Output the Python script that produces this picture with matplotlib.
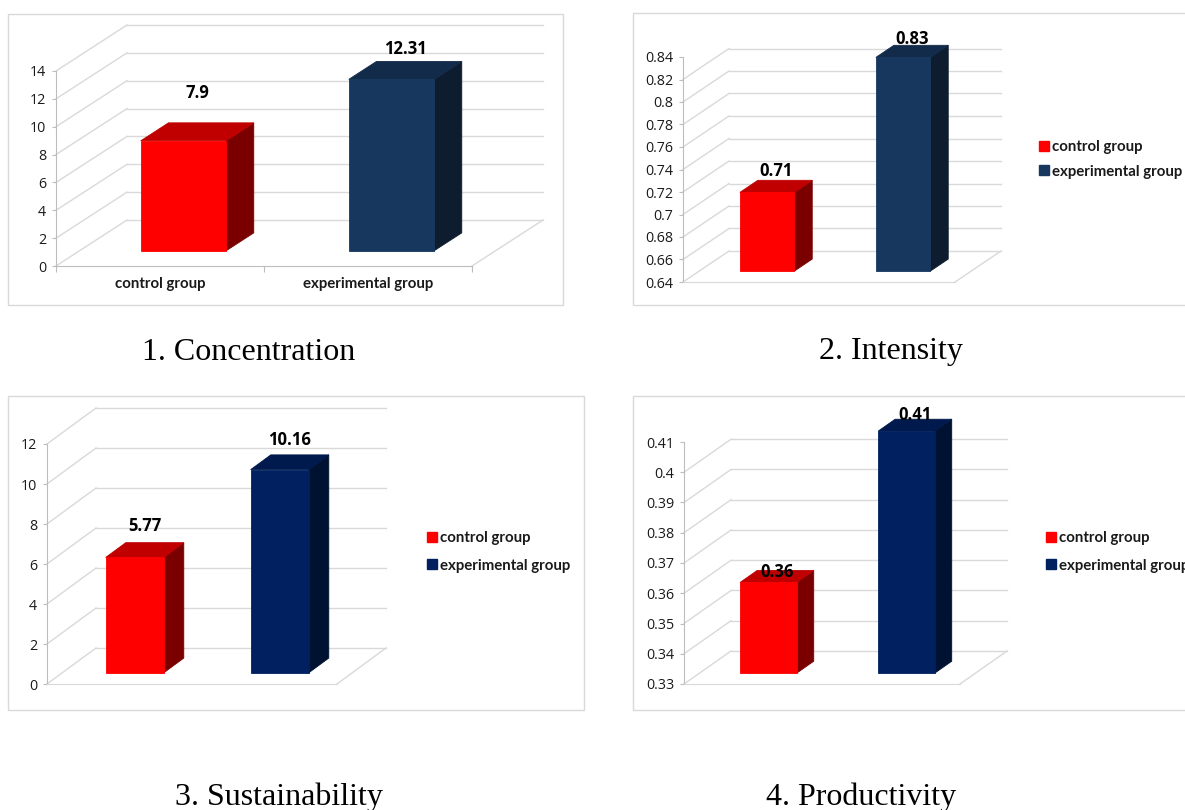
import matplotlib
matplotlib.use("Agg")
import matplotlib.pyplot as plt
from matplotlib.patches import Polygon, Rectangle
from matplotlib.lines import Line2D

# ---- data -------------------------------------------------------------
groups = ["control group", "experimental group"]
captions = ["1. Concentration", "2. Intensity", "3. Sustainability", "4. Productivity"]

concentration = [7.9, 12.31]
intensity = [0.71, 0.83]
sustainability = [5.77, 10.16]
productivity = [0.36, 0.41]

conc_ticks = [0, 2, 4, 6, 8, 10, 12, 14]
conc_labels = ["0", "2", "4", "6", "8", "10", "12", "14"]
int_ticks = [0.64, 0.66, 0.68, 0.70, 0.72, 0.74, 0.76, 0.78, 0.80, 0.82, 0.84]
int_labels = ["0.64", "0.66", "0.68", "0.7", "0.72", "0.74", "0.76", "0.78", "0.8", "0.82", "0.84"]
sus_ticks = [0, 2, 4, 6, 8, 10, 12]
sus_labels = ["0", "2", "4", "6", "8", "10", "12"]
prod_ticks = [0.33, 0.34, 0.35, 0.36, 0.37, 0.38, 0.39, 0.40, 0.41]
prod_labels = ["0.33", "0.34", "0.35", "0.36", "0.37", "0.38", "0.39", "0.4", "0.41"]

# ---- styling ----------------------------------------------------------
W, H, DPI = 1185, 810, 100
RED = ("#ff0000", "#c00000", "#7a0000")            # front, top, side
BLUE_A = ("#17375e", "#132b4b", "#0d1c2e")
BLUE_B = ("#002060", "#001a4e", "#001232")
GRID = "#d9d9d9"
AXIS = "#bdbdbd"
FRAME = "#d9d9d9"
TXT = "#1a1a1a"
LABEL_SIZE = 10.8

# pixel layout of each panel: frame box, front axis box, depth shift, bar geometry
panels = [
    dict(values=concentration, ticks=conc_ticks, labels=conc_labels, back_top=14,
         colors=(RED, BLUE_A), frame=(8, 14, 563, 305),
         fx0=56, fx1=472, fy0=266, fyt=71, dxp=71, dyp=46,
         width=0.41, f1=0.33, f2=0.72, xlabels=True, legend=None,
         lab_off=(30, 12), caption_xy=(249, 352)),
    dict(values=intensity, ticks=int_ticks, labels=int_labels, back_top=0.82,
         colors=(RED, BLUE_A), frame=(633, 13, 1200, 305),
         fx0=683, fx1=955, fy0=282, fyt=57, dxp=46, dyp=31,
         width=0.40, f1=0.35, f2=0.74, xlabels=False, legend=(1039, 159.5, 0.68),
         lab_off=(9, 6), caption_xy=(891, 352)),
    dict(values=sustainability, ticks=sus_ticks, labels=sus_labels, back_top=12,
         colors=(RED, BLUE_B), frame=(8, 396, 584, 710),
         fx0=47, fx1=337, fy0=684, fyt=444, dxp=49, dyp=36,
         width=0.40, f1=0.31, f2=0.72, xlabels=False, legend=(427, 552, 0.88),
         lab_off=(17, 15), caption_xy=(279, 797)),
    dict(values=productivity, ticks=prod_ticks, labels=prod_labels, back_top=0.40,
         colors=(RED, BLUE_B), frame=(633, 396, 1200, 710),
         fx0=684, fx1=960, fy0=684, fyt=442, dxp=47, dyp=33,
         width=0.41, f1=0.33, f2=0.69, xlabels=False, legend=(1046, 552, 0.88),
         lab_off=(-2, 4), caption_xy=(861, 797)),
]

fig = plt.figure(figsize=(W / DPI, H / DPI), dpi=DPI)
fig.patch.set_facecolor("white")


def fx(px):
    return px / W


def fy(py):
    return 1 - py / H


for p, caption in zip(panels, captions):
    # panel frame
    x0, y0, x1, y1 = p["frame"]
    fig.patches.append(Rectangle((fx(x0), fy(y1)), fx(x1) - fx(x0), fy(y0) - fy(y1),
                                 transform=fig.transFigure, fill=False,
                                 edgecolor=FRAME, linewidth=1.0, zorder=0))

    ticks = p["ticks"]
    vmin, vtop = ticks[0], ticks[-1]
    ppc = (p["fx1"] - p["fx0"]) / 2.0                 # pixels per category
    ppu = (p["fy0"] - p["fyt"]) / (vtop - vmin)       # pixels per value unit
    ddx = p["dxp"] / ppc
    ddy = p["dyp"] / ppu

    left, right = p["fx0"], p["fx1"] + p["dxp"]
    bottom, top = p["fy0"], p["fyt"] - p["dyp"]
    ax = fig.add_axes([fx(left), fy(bottom), fx(right) - fx(left), fy(top) - fy(bottom)])
    ax.set_xlim(0, 2 + ddx)
    ax.set_ylim(vmin, vtop + ddy)
    ax.patch.set_visible(False)

    # back wall gridlines and side wall diagonals
    for v in ticks:
        if v > p["back_top"] + 1e-9:
            continue
        ax.plot([ddx, 2 + ddx], [v + ddy, v + ddy], color=GRID, lw=1.0, zorder=1,
                clip_on=False)
        ax.plot([0, ddx], [v, v + ddy], color=GRID, lw=1.0, zorder=1, clip_on=False)
    # floor right edge
    ax.plot([2, 2 + ddx], [vmin, vmin + ddy], color=GRID, lw=1.0, zorder=1, clip_on=False)

    # axes spines
    for s in ("top", "right"):
        ax.spines[s].set_visible(False)
    ax.spines["left"].set_bounds(vmin, vtop)
    ax.spines["bottom"].set_bounds(0, 2)
    ax.spines["left"].set_color(AXIS)
    ax.spines["bottom"].set_color(AXIS if p["xlabels"] else GRID)
    ax.set_yticks(ticks)
    ax.set_yticklabels(p["labels"], fontfamily="Open Sans", fontsize=10.3, color=TXT)
    ax.tick_params(axis="y", length=3, color=AXIS, pad=4)
    if p["xlabels"]:
        ax.set_xticks([0, 1, 2])
        ax.set_xticklabels([])
        ax.tick_params(axis="x", which="major", length=4, color=AXIS)
        ax.set_xticks([0.5, 1.5], minor=True)
        ax.set_xticklabels(groups, minor=True, fontfamily="Lato", fontweight="bold",
                           fontsize=LABEL_SIZE, color=TXT)
        ax.tick_params(axis="x", which="minor", length=0, pad=8)
    else:
        ax.set_xticks([])

    # 3-D looking bars
    w, f1, f2 = p["width"], p["f1"], p["f2"]
    for i, (val, (c_front, c_top, c_side)) in enumerate(zip(p["values"], p["colors"])):
        xl = i + 0.5 - w / 2
        xr = i + 0.5 + w / 2
        a = (f1 * ddx, f1 * ddy)
        b = (f2 * ddx, f2 * ddy)
        front = [(xl + a[0], vmin + a[1]), (xr + a[0], vmin + a[1]),
                 (xr + a[0], val + a[1]), (xl + a[0], val + a[1])]
        side = [(xr + a[0], vmin + a[1]), (xr + b[0], vmin + b[1]),
                (xr + b[0], val + b[1]), (xr + a[0], val + a[1])]
        topf = [(xl + a[0], val + a[1]), (xr + a[0], val + a[1]),
                (xr + b[0], val + b[1]), (xl + b[0], val + b[1])]
        for poly, col in ((side, c_side), (topf, c_top), (front, c_front)):
            ax.add_patch(Polygon(poly, closed=True, facecolor=col, edgecolor=col,
                                 linewidth=0.6, zorder=3, clip_on=False))
        # value label above the bar top
        cx = i + 0.5 + (f1 + f2) / 2 * ddx
        ax.annotate(f"{val:g}", xy=(cx, val + f2 * ddy), xytext=(0, p["lab_off"][i]),
                    textcoords="offset pixels", ha="center", va="center",
                    fontfamily="Open Sans", fontweight="bold", fontsize=12,
                    color="black", zorder=5, annotation_clip=False)

    # legend
    if p["legend"] is not None:
        lx, ly, ls = p["legend"]
        handles = [Line2D([], [], marker="s", linestyle="none", markersize=7.5,
                          markerfacecolor=col[0], markeredgecolor=col[0])
                   for col in p["colors"]]
        leg = ax.legend(handles, groups, loc="center left",
                        bbox_to_anchor=(fx(lx), fy(ly)), bbox_transform=fig.transFigure,
                        frameon=False, handlelength=0.62, handletextpad=0.25,
                        borderpad=0, borderaxespad=0, labelspacing=ls,
                        prop=dict(family="Lato", weight="bold", size=LABEL_SIZE))
        for t in leg.get_texts():
            t.set_color(TXT)

    # caption
    fig.text(fx(p["caption_xy"][0]), fy(p["caption_xy"][1]), caption,
             ha="center", va="center", fontfamily="Liberation Serif", fontsize=23,
             color="black")

fig.savefig("out.png", dpi=DPI, facecolor="white")
